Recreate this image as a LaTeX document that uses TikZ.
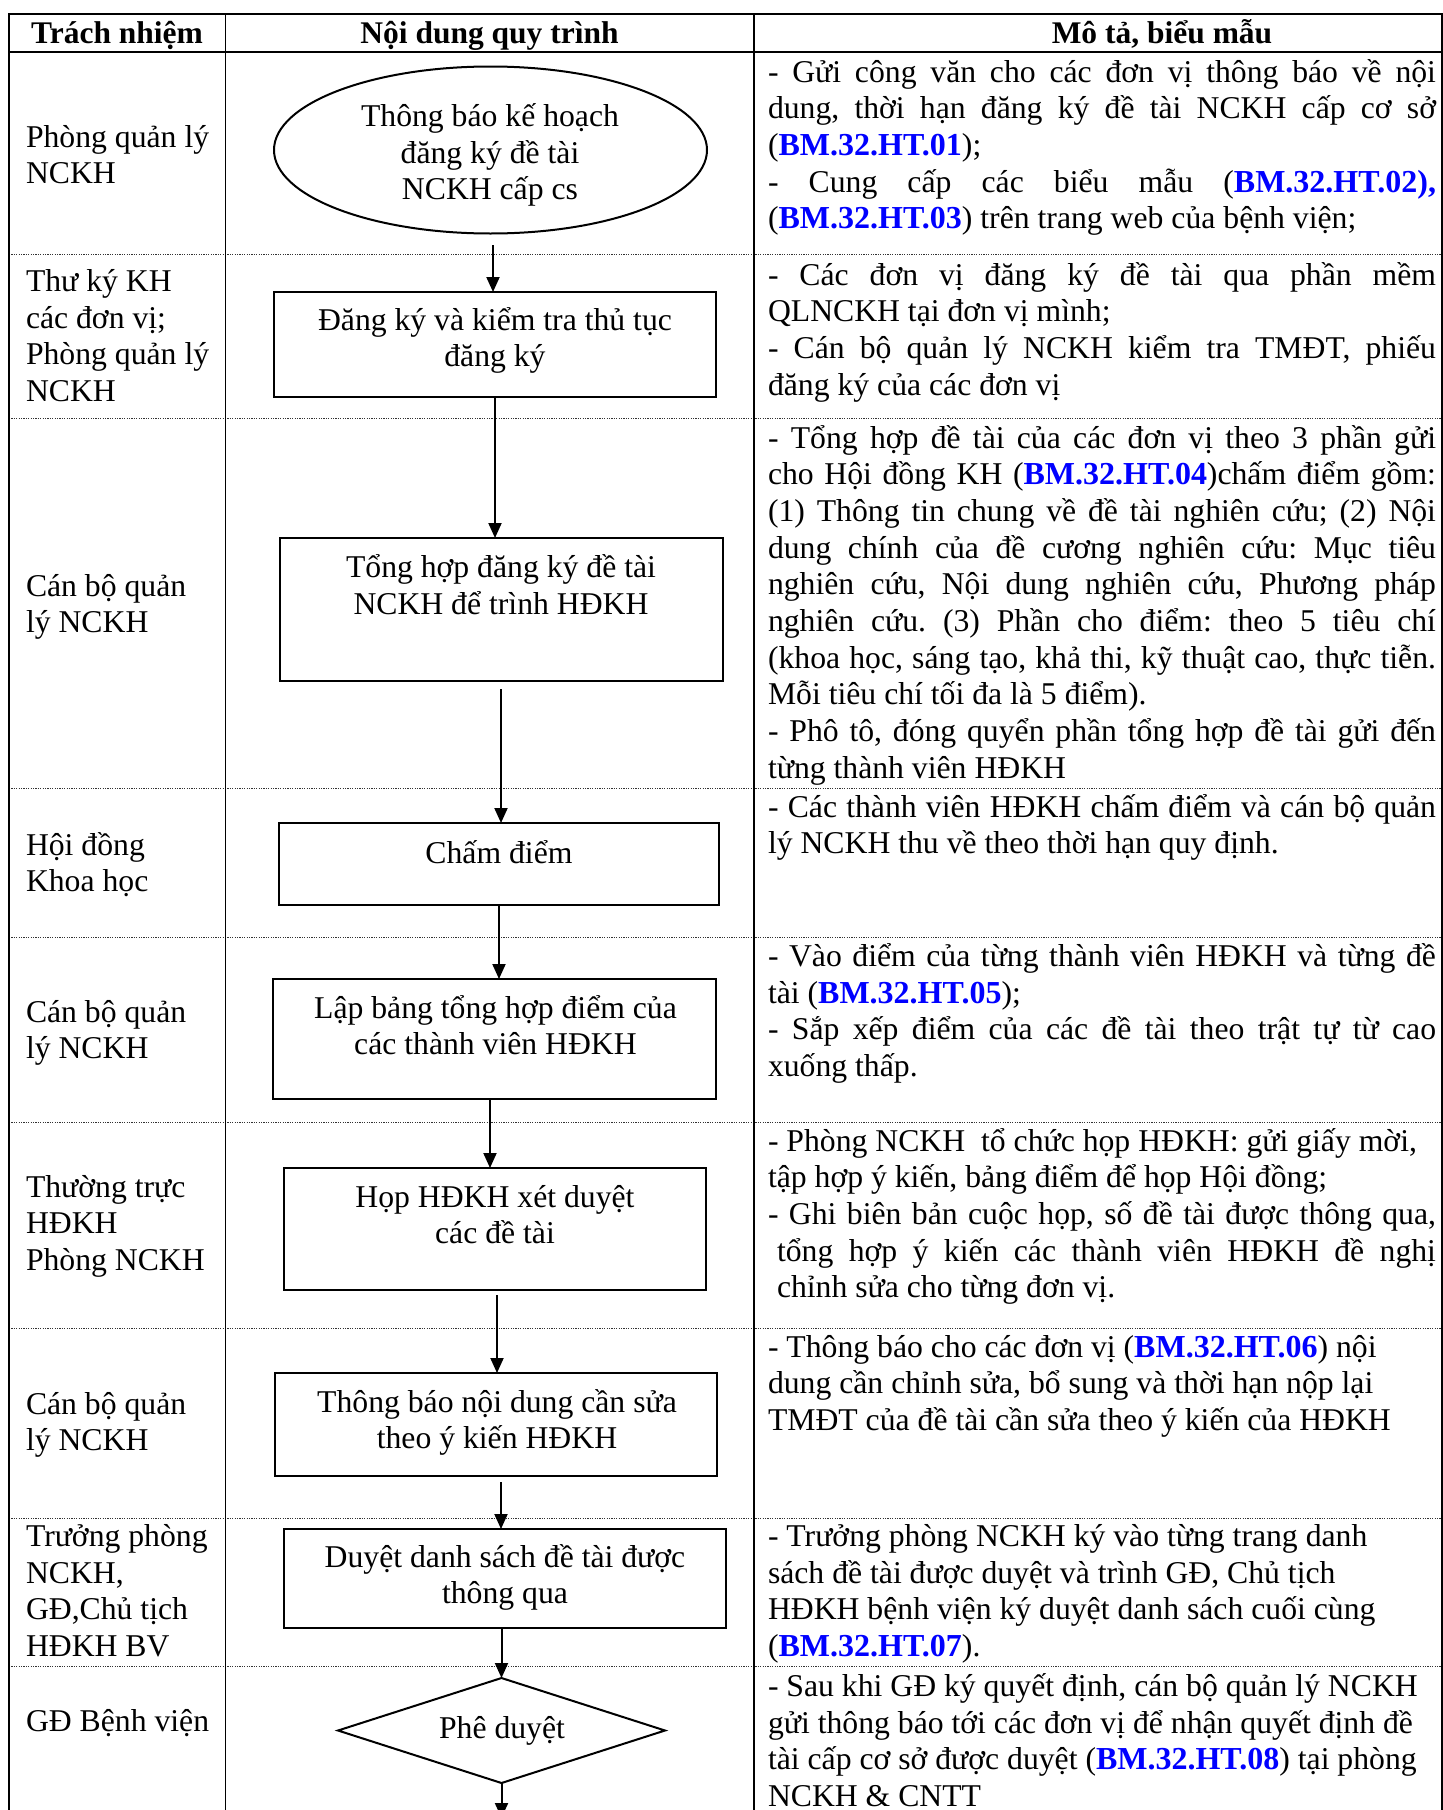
\documentclass[tikz,border=0pt]{standalone}
\usepackage{fontspec}
\setmainfont{Liberation Serif}
\usetikzlibrary{shapes.geometric,arrows.meta}
\definecolor{bmblue}{RGB}{0,0,255}
\newcommand{\bmc}[1]{\textcolor{bmblue}{\fontsize{32}{36.7}\selectfont\textbf{#1}}}
\newcommand{\jl}[1]{\makebox[668pt][s]{#1}}
\frenchspacing
\begin{document}
\begin{tikzpicture}[x=1pt,y=-1pt,
  every node/.style={inner sep=0pt,outer sep=0pt},
  txt/.style={font=\fontsize{31.7}{36.7}\selectfont},
  fixsp/.style={execute at begin node={\spaceskip=.25em\relax\xspaceskip=.25em\relax}},
  natsp/.style={execute at begin node={\frenchspacing\spaceskip=0pt\relax\xspaceskip=0pt\relax}},
  headtxt/.style={txt,fixsp,font=\fontsize{31.5}{36.7}\selectfont\bfseries,anchor=base},
  roletxt/.style={txt,fixsp,anchor=base west,align=left,text width=215pt},
  desctxt/.style={txt,natsp,anchor=base west,align=left,text width=668pt},
  shapetxt/.style={txt,fixsp,anchor=base,align=center,text width=440pt},
  stepbox/.style={draw,line width=2pt,rectangle},
  arr/.style={line width=2pt,-{Triangle[length=15pt,width=13pt]}},
  sepline/.style={black!80,line width=0.9pt,dash pattern=on 1.2pt off 1.2pt},
  frameline/.style={line width=1.6pt}
]
\useasboundingbox (0,0) rectangle (1443,1810);
\fill[white] (0,0) rectangle (1443,1810);
\clip (0,0) rectangle (1443,1810);

% row separators (dotted)
\foreach \yy in {254,418,788,937,1122,1328,1518,1666}
  \draw[sepline] (9,\yy) -- (1442,\yy);

% table frame
\draw[line width=2.6pt] (8,14) -- (1443,14);
\draw[line width=2pt] (8,52) -- (1443,52);
\draw[frameline] (9,13) -- (9,1812);
\draw[frameline] (225.5,13) -- (225.5,1812);
\draw[frameline] (754,13) -- (754,1812);
\draw[frameline] (1442,13) -- (1442,1812);

% headers
\node[headtxt] (h1) at (117,43) {Trách nhiệm};
\node[headtxt] (h2) at (489.5,43) {Nội dung quy trình};
\node[headtxt] (h3) at (1162,43) {Mô tả, biểu mẫu};

% responsibilities
\node[roletxt] (r1) at (26,147) {Phòng quản lý\\NCKH};
\node[roletxt] (r2) at (26,291.5) {Thư ký KH\\các đơn vị;\\Phòng quản lý\\NCKH};
\node[roletxt] (r3) at (26,596) {Cán bộ quản\\lý NCKH};
\node[roletxt] (r4) at (26,855) {Hội đồng\\Khoa học};
\node[roletxt] (r5) at (26,1022) {Cán bộ quản\\lý NCKH};
\node[roletxt] (r6) at (26,1197) {Thường trực\\HĐKH\\Phòng NCKH};
\node[roletxt] (r7) at (26,1414) {Cán bộ quản\\lý NCKH};
\node[roletxt] (r8) at (26,1546.5) {Trưởng phòng\\NCKH,\\GĐ,Chủ tịch\\HĐKH BV};
\node[roletxt] (r9) at (26,1731.5) {GĐ Bệnh viện};

% process shapes
\node[draw,ellipse,line width=2pt,minimum width=433pt,minimum height=167pt] (e1) at (490.5,150) {};
\node[stepbox,minimum width=442pt,minimum height=105pt] (b2) at (495,344.5) {};
\node[stepbox,minimum width=443pt,minimum height=143pt] (b3) at (501.5,609.5) {};
\node[stepbox,minimum width=440pt,minimum height=82pt] (b4) at (499,864) {};
\node[stepbox,minimum width=443pt,minimum height=120pt] (b5) at (494.5,1039) {};
\node[stepbox,minimum width=422pt,minimum height=122pt] (b6) at (495,1229) {};
\node[stepbox,minimum width=442pt,minimum height=103pt] (b7) at (496,1424.5) {};
\node[stepbox,minimum width=442pt,minimum height=99pt] (b8) at (505,1578.5) {};
\node[draw,diamond,line width=2pt,minimum width=327pt,minimum height=105pt] (dm) at (501.5,1730.5) {};

% process texts
\node[shapetxt] (t1) at (490,126.5) {Thông báo kế hoạch\\đăng ký đề tài\\NCKH cấp cs};
\node[shapetxt] (t2) at (495,330) {Đăng ký và kiểm tra thủ tục\\đăng ký};
\node[shapetxt] (t3) at (501,577.5) {Tổng hợp đăng ký đề tài\\NCKH để trình HĐKH};
\node[shapetxt] (t4) at (499,863) {Chấm điểm};
\node[shapetxt] (t5) at (495.5,1018) {Lập bảng tổng hợp điểm của\\các thành viên HĐKH};
\node[shapetxt] (t6) at (495,1207) {Họp HĐKH xét duyệt\\các đề tài};
\node[shapetxt] (t7) at (497,1412) {Thông báo nội dung cần sửa\\theo ý kiến HĐKH};
\node[shapetxt] (t8) at (505,1567) {Duyệt danh sách đề tài được\\thông qua};
\node[shapetxt] (t9) at (502,1738) {Phê duyệt};

% connectors
\coordinate (a1) at (493,245);
\draw[arr] (a1) -- (a1 |- b2.north);
\draw[arr] (b2.south) -- (b2.south |- b3.north);
\coordinate (a3) at (501,689);
\draw[arr] (a3) -- (a3 |- b4.north);
\draw[arr] (b4.south) -- (b4.south |- b5.north);
\coordinate (a5) at (490,1099);
\draw[arr] (a5) -- (a5 |- b6.north);
\coordinate (a6) at (497,1295);
\draw[arr] (a6) -- (a6 |- b7.north);
\coordinate (a7) at (501,1482);
\draw[arr] (a7) -- (a7 |- b8.north);
\draw[arr] (dm.north |- b8.south) -- (dm.north);
\coordinate (a9) at (501.5,1818);
\draw[arr] (dm.south) -- (a9);

% descriptions
\node[desctxt] (d1) at (768,82) {%
\jl{- Gửi công văn cho các đơn vị thông báo về nội}\\
\jl{dung, thời hạn đăng ký đề tài NCKH cấp cơ sở}\\
(\bmc{BM.32.HT.01});\\
\jl{- Cung cấp các biểu mẫu (\bmc{BM.32.HT.02),}}\\
(\bmc{BM.32.HT.03}) trên trang web của bệnh viện;};

\node[desctxt] (d2) at (768,285) {%
\jl{- Các đơn vị đăng ký đề tài qua phần mềm}\\
QLNCKH tại đơn vị mình;\\
\jl{- Cán bộ quản lý NCKH kiểm tra TMĐT, phiếu}\\
đăng ký của các đơn vị};

\node[desctxt] (d3) at (768,448) {%
\jl{- Tổng hợp đề tài của các đơn vị theo 3 phần gửi}\\
\jl{cho Hội đồng KH (\bmc{BM.32.HT.04})chấm điểm gồm:}\\
\jl{(1) Thông tin chung về đề tài nghiên cứu; (2) Nội}\\
\jl{dung chính của đề cương nghiên cứu: Mục tiêu}\\
\jl{nghiên cứu, Nội dung nghiên cứu, Phương pháp}\\
\jl{nghiên cứu. (3) Phần cho điểm: theo 5 tiêu chí}\\
\jl{(khoa học, sáng tạo, khả thi, kỹ thuật cao, thực tiễn.}\\
Mỗi tiêu chí tối đa là 5 điểm).\\
\jl{- Phô tô, đóng quyển phần tổng hợp đề tài gửi đến}\\
từng thành viên HĐKH};

\node[desctxt] (d4) at (768,817) {%
\jl{- Các thành viên HĐKH chấm điểm và cán bộ quản}\\
lý NCKH thu về theo thời hạn quy định.};

\node[desctxt] (d5) at (768,966.5) {%
\jl{- Vào điểm của từng thành viên HĐKH và từng đề}\\
tài (\bmc{BM.32.HT.05});\\
\jl{- Sắp xếp điểm của các đề tài theo trật tự từ cao}\\
xuống thấp.};

\node[desctxt] (d6) at (768,1151) {%
- Phòng NCKH~ tổ chức họp HĐKH: gửi giấy mời,\\
tập hợp ý kiến, bảng điểm để họp Hội đồng;\\
\jl{- Ghi biên bản cuộc họp, số đề tài được thông qua,}\\
\jl{\hspace*{9pt}tổng hợp ý kiến các thành viên HĐKH đề nghị}\\
\hspace*{9pt}chỉnh sửa cho từng đơn vị.};

\node[desctxt] (d7) at (768,1357) {%
- Thông báo cho các đơn vị (\bmc{BM.32.HT.06}) nội\\
dung cần chỉnh sửa, bổ sung và thời hạn nộp lại\\
TMĐT của đề tài cần sửa theo ý kiến của HĐKH};

\node[desctxt] (d8) at (768,1546.5) {%
- Trưởng phòng NCKH ký vào từng trang danh\\
sách đề tài được duyệt và trình GĐ, Chủ tịch\\
HĐKH bệnh viện ký duyệt danh sách cuối cùng\\
(\bmc{BM.32.HT.07}).};

\node[desctxt] (d9) at (768,1696.5) {%
- Sau khi GĐ ký quyết định, cán bộ quản lý NCKH\\
gửi thông báo tới các đơn vị để nhận quyết định đề\\
tài cấp cơ sở được duyệt (\bmc{BM.32.HT.08}) tại phòng\\
NCKH \& CNTT};
\end{tikzpicture}
\end{document}
